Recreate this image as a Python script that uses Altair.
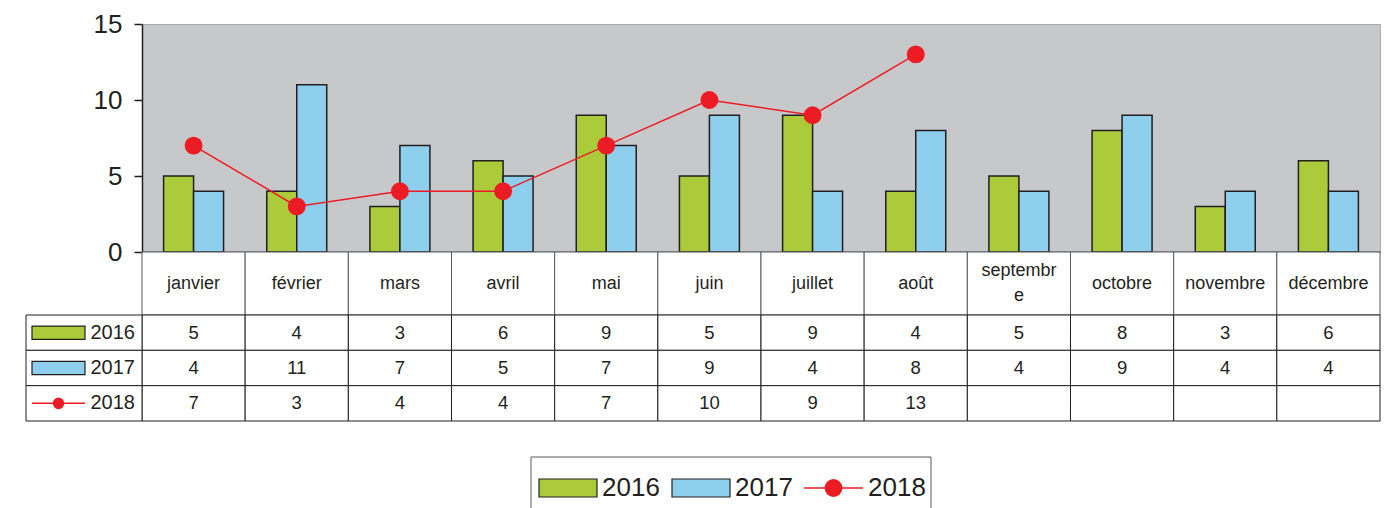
import altair as alt
import pandas as pd

# ---- data ----
months = ["janvier", "février", "mars", "avril", "mai", "juin", "juillet",
          "août", "septembre", "octobre", "novembre", "décembre"]
v2016 = [5, 4, 3, 6, 9, 5, 9, 4, 5, 8, 3, 6]
v2017 = [4, 11, 7, 5, 7, 9, 4, 8, 4, 9, 4, 4]
v2018 = [7, 3, 4, 4, 7, 10, 9, 13]
years = ["2016", "2017", "2018"]
y_ticks = [0, 5, 10, 15]

# ---- styles ----
GREEN = "#ABCB3B"
BLUE = "#8ECFED"
RED = "#ED1C24"
DARK = "#231F20"
GRIDC = "#58595B"
BG = "#C7C8CA"
FONT = "Liberation Sans"

W = 1238
H_TOP = 228
H_HEAD = 63
H_ROWS = 106
H_LEG = 87

series = {"2016": v2016, "2017": v2017, "2018": v2018}

bars_df = pd.DataFrame(
    [{"month": m, "year": y, "value": v}
     for y in ["2016", "2017"] for m, v in zip(months, series[y])]
)
line_df = pd.DataFrame({"month": months[:len(v2018)], "value": v2018})

xscale = alt.Scale(domain=months, paddingInner=0, paddingOuter=0)

# ---- top plot ----
bars = alt.Chart(bars_df).mark_bar(stroke=DARK, strokeWidth=1.5).encode(
    x=alt.X("month:N", scale=xscale, sort=months,
            axis=alt.Axis(labels=False, ticks=False, title=None,
                          domainColor=DARK, domainWidth=1.5)),
    xOffset=alt.XOffset("year:N", scale=alt.Scale(domain=["2016", "2017"],
                                                  paddingInner=0, paddingOuter=0.72)),
    y=alt.Y("value:Q", stack=None, scale=alt.Scale(domain=[0, 15], nice=False),
            axis=alt.Axis(values=y_ticks, tickSize=8, tickColor=DARK, tickWidth=1.5,
                          labelPadding=12, labelFontSize=26, labelFont=FONT,
                          labelColor=DARK, domainColor=DARK, domainWidth=1.5,
                          grid=False, title=None)),
    fill=alt.Fill("year:N", scale=alt.Scale(domain=["2016", "2017"], range=[GREEN, BLUE]),
                  legend=None),
)

line = alt.Chart(line_df).mark_line(color=RED, strokeWidth=1.5).encode(
    x=alt.X("month:N", scale=xscale, sort=months),
    y=alt.Y("value:Q"),
)
pts = alt.Chart(line_df).mark_circle(color=RED, size=320, opacity=1).encode(
    x=alt.X("month:N", scale=xscale, sort=months),
    y=alt.Y("value:Q"),
)

top = alt.layer(bars, line, pts).properties(
    width=W, height=H_TOP,
    view=alt.ViewBackground(fill=BG, stroke="#A7A9AC", strokeWidth=1),
)

# ---- header row (months) ----
head_df = pd.DataFrame({"month": months})
head_base = alt.Chart(head_df).transform_calculate(
    label="datum.month == 'septembre' ? 'septembr\\ne' : datum.month",
    multi="datum.month == 'septembre'",
)
head_cells = head_base.mark_rect(fill="white", stroke=GRIDC, strokeWidth=1).encode(
    x=alt.X("month:N", scale=xscale, sort=months, axis=None)
)
head_text1 = head_base.transform_filter("!datum.multi").mark_text(
    font=FONT, fontSize=18, color=DARK
).encode(
    x=alt.X("month:N", scale=xscale, sort=months, axis=None),
    text="label:N",
)
head_text2 = head_base.transform_filter("datum.multi").mark_text(
    font=FONT, fontSize=18, color=DARK, lineBreak="\n", lineHeight=25, dy=-12.5
).encode(
    x=alt.X("month:N", scale=xscale, sort=months, axis=None),
    text="label:N",
)
header = alt.layer(head_cells, head_text1, head_text2).properties(
    width=W, height=H_HEAD, view=alt.ViewBackground(stroke=None)
)

# ---- data rows ----
rows_df = pd.DataFrame(
    [{"month": m, "row": y,
      "value": (str(series[y][i]) if i < len(series[y]) else "")}
     for y in years for i, m in enumerate(months)]
)
yrows = alt.Scale(domain=years, paddingInner=0, paddingOuter=0)

cells = alt.Chart(rows_df).mark_rect(fill="white", stroke=DARK, strokeWidth=1).encode(
    x=alt.X("month:N", scale=xscale, sort=months, axis=None),
    y=alt.Y("row:N", scale=yrows, sort=years, axis=None),
)
vals = alt.Chart(rows_df).transform_filter("datum.value != ''").mark_text(
    font=FONT, fontSize=18.5, color=DARK
).encode(
    x=alt.X("month:N", scale=xscale, sort=months, axis=None),
    y=alt.Y("row:N", scale=yrows, sort=years, axis=None),
    text="value:N",
)

lc_df = pd.DataFrame({"row": years})
lc_cells = alt.Chart(lc_df).mark_rect(fill="white", stroke=DARK, strokeWidth=1).encode(
    x=alt.value(-116), x2=alt.value(0),
    y=alt.Y("row:N", scale=yrows, sort=years, axis=None),
)
lc_labels = alt.Chart(lc_df).mark_text(font=FONT, fontSize=20, color=DARK,
                                       align="right").encode(
    x=alt.value(-7),
    y=alt.Y("row:N", scale=yrows, sort=years, axis=None),
    text="row:N",
)
RECT_PATH = "M-1,-0.25L1,-0.25L1,0.25L-1,0.25Z"
sw_df = pd.DataFrame({"row": ["2016", "2017"]})
lc_swatch = alt.Chart(sw_df).mark_point(shape=RECT_PATH, filled=True, size=53 * 53,
                                        stroke=DARK, strokeWidth=1.2, opacity=1).encode(
    x=alt.value(-83.5),
    y=alt.Y("row:N", scale=yrows, sort=years, axis=None),
    fill=alt.Fill("row:N", scale=alt.Scale(domain=["2016", "2017"], range=[GREEN, BLUE]),
                  legend=None),
)
ln_df = pd.DataFrame({"row": ["2018"]})
lc_rule = alt.Chart(ln_df).mark_rule(color=RED, strokeWidth=1.5).encode(
    x=alt.value(-110), x2=alt.value(-57),
    y=alt.Y("row:N", scale=yrows, sort=years, axis=None),
)
lc_dot = alt.Chart(ln_df).mark_circle(color=RED, size=135, opacity=1).encode(
    x=alt.value(-83.5),
    y=alt.Y("row:N", scale=yrows, sort=years, axis=None),
)

rows = alt.layer(cells, vals, lc_cells, lc_labels, lc_swatch, lc_rule, lc_dot).properties(
    width=W, height=H_ROWS, view=alt.ViewBackground(stroke=None)
)

# ---- bottom legend ----
leg_df = pd.DataFrame({"row": years})
one = leg_df.head(1)
box_top = alt.Chart(one).mark_rule(color=GRIDC, strokeWidth=1).encode(
    x=alt.value(389), x2=alt.value(789), y=alt.value(36)
)
box_left = alt.Chart(one).mark_rule(color=GRIDC, strokeWidth=1).encode(
    x=alt.value(389), y=alt.value(36), y2=alt.value(H_LEG)
)
box_right = alt.Chart(one).mark_rule(color=GRIDC, strokeWidth=1).encode(
    x=alt.value(789), y=alt.value(36), y2=alt.value(H_LEG)
)
LEG_RECT = "M-1,-0.31L1,-0.31L1,0.31L-1,0.31Z"
leg_sw1 = alt.Chart(one).mark_point(shape=LEG_RECT, filled=True, size=58 * 58,
                                    fill=GREEN, stroke=DARK, strokeWidth=1.2,
                                    opacity=1).encode(x=alt.value(426), y=alt.value(67))
leg_sw2 = alt.Chart(one).mark_point(shape=LEG_RECT, filled=True, size=58 * 58,
                                    fill=BLUE, stroke=DARK, strokeWidth=1.2,
                                    opacity=1).encode(x=alt.value(559), y=alt.value(67))
leg_rule = alt.Chart(one).mark_rule(color=RED, strokeWidth=1.5).encode(
    x=alt.value(662), x2=alt.value(721), y=alt.value(67)
)
leg_dot = alt.Chart(one).mark_circle(color=RED, size=320, opacity=1).encode(
    x=alt.value(691.5), y=alt.value(67)
)
leg_t1 = alt.Chart(one).mark_text(font=FONT, fontSize=26, color=DARK, align="left").encode(
    x=alt.value(460), y=alt.value(67), text=alt.value(years[0])
)
leg_t2 = alt.Chart(one).mark_text(font=FONT, fontSize=26, color=DARK, align="left").encode(
    x=alt.value(593), y=alt.value(67), text=alt.value(years[1])
)
leg_t3 = alt.Chart(one).mark_text(font=FONT, fontSize=26, color=DARK, align="left").encode(
    x=alt.value(726), y=alt.value(67), text=alt.value(years[2])
)
legend = alt.layer(box_top, box_left, box_right, leg_sw1, leg_sw2, leg_rule, leg_dot,
                   leg_t1, leg_t2, leg_t3).properties(
    width=W, height=H_LEG, view=alt.ViewBackground(stroke=None)
)

chart = alt.vconcat(top, header, rows, legend, spacing=0, bounds="flush").configure(
    padding={"left": 25, "top": 10, "right": 0, "bottom": 0},
    background="white",
).configure_view(stroke=None)

chart.save("out.html", embed_options={"renderer": "svg", "actions": False})
